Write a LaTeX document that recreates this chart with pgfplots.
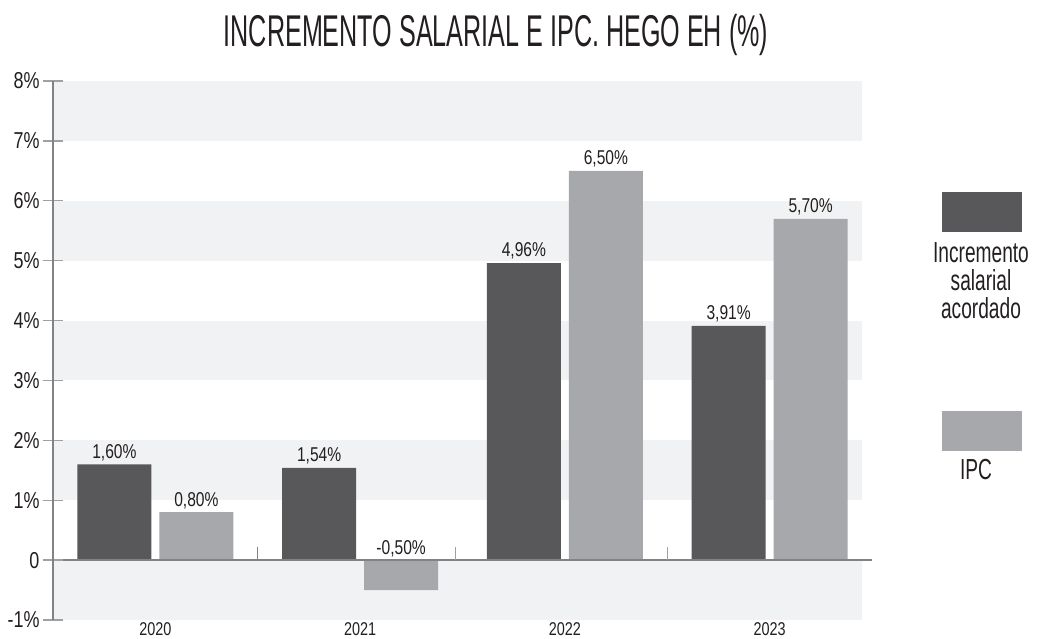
\documentclass[border=0pt]{standalone}
\usepackage{pgfplots}
\pgfplotsset{compat=1.18}
\usepackage{fontspec}
\setmainfont{Liberation Sans}[FakeStretch=0.66]
\newfontfamily\numfont{Liberation Sans}[FakeStretch=0.78]
\newfontfamily\titlefont{Liberation Sans}[FakeStretch=0.565]

\definecolor{darkbar}{RGB}{88,88,90}
\definecolor{lightbar}{RGB}{167,168,171}
\definecolor{band}{RGB}{241,242,244}
\definecolor{axisgray}{RGB}{130,130,132}
\definecolor{tickgray}{RGB}{160,160,162}
\definecolor{txt}{RGB}{35,31,32}

\begin{document}
\begin{tikzpicture}
\useasboundingbox (-53pt,-18pt) rectangle (985pt,620pt);
\begin{axis}[
    at={(0pt,0pt)}, anchor=south west,
    scale only axis,
    width=819pt, height=539pt,
    xmin=-0.5, xmax=3.5,
    ymin=-1, ymax=8,
    enlargelimits=false,
    clip=false,
    axis on top,
    ybar,
    bar width=74pt,
    axis lines=left,
    axis line style={-, draw=axisgray, line width=1.3pt},
    x axis line style={draw=none},
    xtick={0,1,2,3},
    xticklabels={2020,2021,2022,2023},
    xtick style={draw=none},
    xticklabel style={font=\numfont\fontsize{18.5}{18.5}\selectfont, text=txt, inner sep=1pt, yshift=9pt},
    ytick={-1,0,1,2,3,4,5,6,7,8},
    yticklabels={-1\%,0,1\%,2\%,3\%,4\%,5\%,6\%,7\%,8\%},
    yticklabel style={font=\numfont\fontsize{23}{23}\selectfont, text=txt},
    ytick style={draw=tickgray, line width=1.3pt},
    tick align=center,
    major tick length=20pt,
    point meta=explicit symbolic,
    nodes near coords,
    every node near coord/.append style={font=\numfont\fontsize{20}{20}\selectfont, text=txt},
]
% background bands
\fill[band] (axis cs:-0.5,7) rectangle (axis cs:3.45,8);
\fill[band] (axis cs:-0.5,5) rectangle (axis cs:3.45,6);
\fill[band] (axis cs:-0.5,3) rectangle (axis cs:3.45,4);
\fill[band] (axis cs:-0.5,1) rectangle (axis cs:3.45,2);
\fill[band] (axis cs:-0.5,-1) rectangle (axis cs:3.45,0);

% Incremento salarial acordado
\addplot[fill=darkbar, draw=none, bar shift=-41pt] coordinates {
    (0,1.60) [1,60\%]
    (1,1.54) [1,54\%]
    (2,4.96) [4,96\%]
    (3,3.91) [3,91\%]
};
% IPC
\addplot[fill=lightbar, draw=none, bar shift=41pt] coordinates {
    (0,0.80) [0,80\%]
    (1,-0.50) []
    (2,6.50) [6,50\%]
    (3,5.70) [5,70\%]
};
% label of the negative IPC bar, set above the zero line
\addplot[draw=none, fill=none, bar shift=41pt, forget plot] coordinates {
    (1,0) [-0,50\%]
};

% zero line and category separators
\draw[axisgray, line width=1.3pt] (axis cs:-0.5,0) -- (axis cs:3.5,0);
\draw[axisgray, line width=1.2pt] (axis cs:0.5,0) -- (axis cs:0.5,0.22);
\draw[tickgray, line width=1.2pt] (axis cs:1.465,0) -- (axis cs:1.465,0.22);
\draw[tickgray, line width=1.2pt] (axis cs:2.5,0) -- (axis cs:2.5,0.22);
\end{axis}

% title
\node[anchor=base, text=txt, font=\titlefont\fontsize{44.5}{44.5}\selectfont]
    at (443pt,573pt) {INCREMENTO SALARIAL E IPC. HEGO EH (\%)};

% legend
\fill[darkbar] (889pt,388pt) rectangle (969pt,428pt);
\fill[lightbar] (889pt,169pt) rectangle (969pt,209pt);
\begin{scope}[every node/.style={anchor=base, text=txt, font=\fontsize{29}{29}\selectfont}]
\node at (928pt,358pt) {Incremento};
\node at (928pt,330pt) {salarial};
\node at (928pt,302pt) {acordado};
\node at (923pt,141pt) {IPC};
\end{scope}
\end{tikzpicture}
\end{document}
